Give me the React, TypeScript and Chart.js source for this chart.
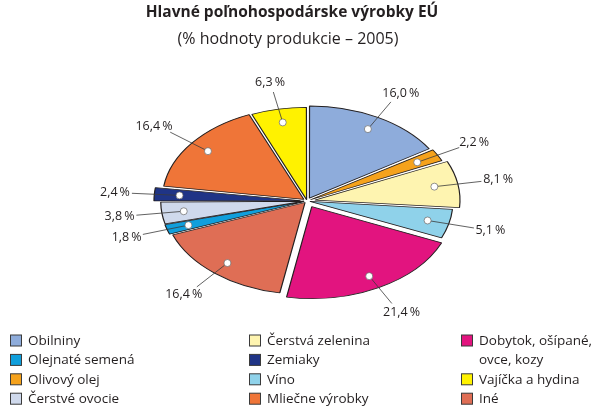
import React, { useEffect, useRef } from 'react';
import { Chart, registerables } from 'chart.js';

Chart.register(...registerables);

// ---- data (clockwise from 12 o'clock) ----
const categories = [
  'Obilniny',
  'Olivový olej',
  'Čerstvá zelenina',
  'Víno',
  'Dobytok, ošípané, ovce, kozy',
  'Iné',
  'Olejnaté semená',
  'Čerstvé ovocie',
  'Zemiaky',
  'Mliečne výrobky',
  'Vajíčka a hydina',
];
const shares = [16.0, 2.2, 8.1, 5.1, 21.4, 16.4, 1.8, 3.8, 2.4, 16.4, 6.3];

const titleText = 'Hlavné poľnohospodárske výrobky EÚ';
const subtitleText = '(% hodnoty produkcie – 2005)';

const legendColumns = [
  ['Obilniny', 'Olejnaté semená', 'Olivový olej', 'Čerstvé ovocie'],
  ['Čerstvá zelenina', 'Zemiaky', 'Víno', 'Mliečne výrobky'],
  ['Dobytok, ošípané, ovce, kozy', 'Vajíčka a hydina', 'Iné'],
];

// ---- styles ----
const sliceColors = [
  '#8eacdb',
  '#f5a21c',
  '#fef4b0',
  '#8fd2ea',
  '#e2147f',
  '#df6e55',
  '#109fdc',
  '#cfd9ec',
  '#1f3486',
  '#ef7538',
  '#fff200',
];
const explode = [5, 4, 8, 3, 10, 3, 3, 3, 6.5, 4, 2];

const K = 0.65; // vertical squash of the pie
const TEXT = '#231f20';
const FONT = '"Open Sans", "DejaVu Sans", sans-serif';

const fmt = (v: number) => v.toFixed(1).replace('.', ',') + '\u2009%';

const ellipsePlugin = {
  id: 'ellipse',
  beforeDatasetsDraw(chart: any) {
    const arc = chart.getDatasetMeta(0).data[0];
    const ctx = chart.ctx;
    ctx.save();
    ctx.translate(arc.x, arc.y);
    ctx.scale(1, K);
    ctx.translate(-arc.x, -arc.y);
  },
  afterDatasetsDraw(chart: any) {
    chart.ctx.restore();
  },
};

const decorPlugin = {
  id: 'decor',
  afterDraw(chart: any) {
    const ctx = chart.ctx as CanvasRenderingContext2D;
    ctx.save();
    // Title
    ctx.fillStyle = TEXT;
    ctx.textAlign = 'center';
    ctx.textBaseline = 'middle';
    ctx.font = `bold 15.5px ${FONT}`;
    ctx.fillText(titleText, 292, 13);
    ctx.font = `16px ${FONT}`;
    ctx.fillText(subtitleText, 288, 39);

    // Slice labels
    const meta = chart.getDatasetMeta(0);
    ctx.font = `12.5px ${FONT}`;
    meta.data.forEach((arc: any, i: number) => {
      const { x, y, startAngle, endAngle, outerRadius } = arc.getProps(
        ['x', 'y', 'startAngle', 'endAngle', 'outerRadius'],
        true
      );
      const a = (startAngle + endAngle) / 2;
      const t = (arc.options.offset || 0) / 4;
      const c = Math.cos(a);
      const s = Math.sin(a);
      const map = (r: number) => ({ x: x + c * r, y: y + s * r * K });
      const dot = map(t + 0.86 * outerRadius);
      const end = map(t + outerRadius + 28);
      ctx.beginPath();
      ctx.moveTo(dot.x, dot.y);
      ctx.lineTo(end.x, end.y);
      ctx.strokeStyle = '#3a3a3a';
      ctx.lineWidth = 0.8;
      ctx.stroke();
      ctx.beginPath();
      ctx.arc(dot.x, dot.y, 3.5, 0, Math.PI * 2);
      ctx.fillStyle = '#ffffff';
      ctx.fill();
      ctx.lineWidth = 0.7;
      ctx.strokeStyle = '#666';
      ctx.stroke();
      const label = fmt(shares[i]);
      const w = ctx.measureText(label).width;
      ctx.fillStyle = TEXT;
      ctx.textAlign = 'center';
      ctx.textBaseline = 'middle';
      ctx.fillText(label, end.x + c * (w / 2 + 2), end.y + s * 10);
    });

    // Legend
    const colX = [10, 249, 461];
    const rowY0 = 341;
    const rowH = 19.4;
    ctx.font = `13.5px ${FONT}`;
    ctx.textAlign = 'left';
    ctx.textBaseline = 'middle';
    legendColumns.forEach((col, ci) => {
      let row = 0;
      const tx = colX[ci] + 18;
      const maxW = 600 - tx - 2;
      col.forEach((name) => {
        const idx = categories.indexOf(name);
        const yy = rowY0 + row * rowH;
        ctx.fillStyle = sliceColors[idx];
        ctx.fillRect(colX[ci] + 0.5, yy - 6, 11, 11);
        ctx.strokeStyle = '#3a3a3a';
        ctx.lineWidth = 1;
        ctx.strokeRect(colX[ci] + 0.5, yy - 6, 11, 11);
        // word wrap
        const words = name.split(' ');
        const lines: string[] = [];
        let cur = '';
        words.forEach((wd) => {
          const test = cur ? cur + ' ' + wd : wd;
          if (cur && ctx.measureText(test).width > maxW) {
            lines.push(cur);
            cur = wd;
          } else cur = test;
        });
        if (cur) lines.push(cur);
        ctx.fillStyle = TEXT;
        lines.forEach((ln, li) => {
          ctx.fillText(ln, tx, yy + li * rowH);
        });
        row += lines.length;
      });
    });
    ctx.restore();
  },
};

export default function App() {
  const ref = useRef<HTMLCanvasElement | null>(null);
  useEffect(() => {
    if (!ref.current) return;
    const chart = new Chart(ref.current, {
      type: 'pie',
      data: {
        labels: categories,
        datasets: [
          {
            data: shares,
            backgroundColor: sliceColors,
            borderColor: '#231f20',
            borderWidth: 1.2,
            offset: explode.map((v) => v * 4),
            radius: 141,
          } as any,
        ],
      },
      options: {
        responsive: false,
        animation: false,
        devicePixelRatio: 1,
        events: [],
        layout: { padding: { left: 14, right: 0, top: 0, bottom: 9 } },
        plugins: {
          legend: { display: false },
          title: { display: false },
          tooltip: { enabled: false },
        },
      },
      plugins: [ellipsePlugin, decorPlugin],
    });
    return () => chart.destroy();
  }, []);
  return (
    <div style={{ position: 'absolute', left: 0, top: 0, width: 600, height: 411, background: '#fff' }}>
      <canvas ref={ref} width={600} height={411} />
    </div>
  );
}
